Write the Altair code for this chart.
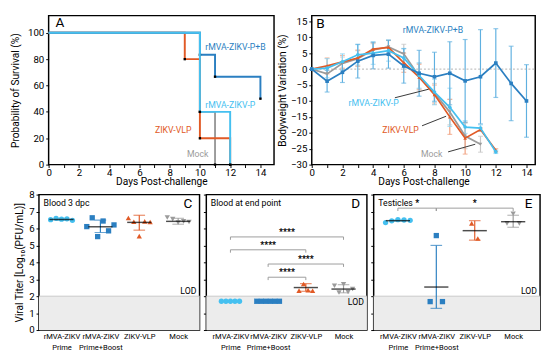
import json
import altair as alt
import pandas as pd

FONT = "Roboto"
SERIES = ["rMVA-ZIKV-P+B", "rMVA-ZIKV-P", "ZIKV-VLP", "Mock"]
LINE_COLORS = ["#2b7fc1", "#45c0f0", "#e15a26", "#9b9b9b"]
BAR_COLORS = ["#5fb0e0", "#8fd6f4", "#f1a07e", "#c6c6c6"]

# ---------------- Panel A: survival (Kaplan-Meier steps) ----------------
surv_pb_days = [0, 10, 11, 14]
surv_pb_pct = [100, 83.3, 66.7, 50]
surv_p_days = [0, 10, 12]
surv_p_pct = [100, 40, 0]
surv_vlp_days = [0, 9, 10, 12]
surv_vlp_pct = [100, 80, 20, 0]
surv_mock_days = [0, 10, 11]
surv_mock_pct = [100, 40, 0]

# ---------------- Panel B: bodyweight variation ----------------
bw_pb_days = list(range(15))
bw_pb_mean = [0, -3.8, -1.0, 2.5, 4.3, 4.7, 1.0, -1.3, -2.4, -1.3, -3.7, -2.4, 1.9, -4.5, -10.0]
bw_pb_err = [0, 3.4, 3.2, 5.3, 4.2, 4.4, 5.4, 7.2, 7.7, 9.9, 13.0, 14.8, 10.8, 11.7, 11.4]
bw_p_days = list(range(13))
bw_p_mean = [0, 0.3, 2.3, 4.5, 5.0, 5.8, 3.5, -2.0, -7.2, -12.0, -18.2, -18.5, -26.0]
bw_p_err = [0, 3.0, 2.5, 3.2, 3.5, 3.3, 3.0, 4.0, 4.0, 6.0, 2.0, 1.0, 0.5]
bw_vlp_days = list(range(13))
bw_vlp_mean = [0, 1.0, 2.3, 3.5, 6.3, 6.8, 2.0, -2.5, -8.0, -15.0, -21.7, -19.0, -25.5]
bw_vlp_err = [0, 2.5, 2.0, 2.5, 2.0, 2.2, 3.0, 4.0, 3.0, 5.5, 5.0, 0.5, 0.5]
bw_mock_days = list(range(12))
bw_mock_mean = [0, -1.5, 1.8, 3.3, 6.0, 7.0, 4.8, -2.2, -7.5, -13.5, -21.0, -23.6]
bw_mock_err = [0, 2.0, 2.0, 2.5, 2.0, 2.0, 3.0, 4.0, 3.0, 4.0, 4.0, 2.5]

# ---------------- Panels C-E: viral titers ----------------
GROUPS = ["rMVA-ZIKV|Prime", "rMVA-ZIKV|Prime+Boost", "ZIKV-VLP", "Mock"]
GROUP_SERIES = ["rMVA-ZIKV-P", "rMVA-ZIKV-P+B", "ZIKV-VLP", "Mock"]
GROUP_SHAPES = ["circle", "square", "triangle-up", "triangle-down"]

c_prime = [6.52, 6.6, 6.55, 6.57, 6.48]
c_pb = [6.11, 6.63, 5.52, 6.44, 5.86, 6.21]
c_vlp = [6.62, 6.4, 5.55, 6.42, 6.38]
c_mock = [6.65, 6.55, 6.35, 6.42, 6.38]
c_mean = [6.53, 6.1, 6.36, 6.42]
c_lo = [6.48, 5.76, 5.9, 6.25]
c_hi = [6.6, 6.49, 6.78, 6.6]

d_prime = [1.7, 1.7, 1.7, 1.7, 1.7]
d_pb = [1.7, 1.7, 1.7, 1.7, 1.7, 1.7]
d_vlp = [2.33, 2.72, 2.36, 2.32]
d_mock = [2.62, 2.22, 2.7, 2.25, 2.42]
d_mean = [2.51, 2.42]
d_lo = [2.29, 2.2]
d_hi = [2.74, 2.68]
d_summary_groups = [2, 3]

e_prime = [6.35, 6.45, 6.52, 6.5, 6.48]
e_pb = [1.68, 5.58, 1.68]
e_vlp = [6.3, 5.41]
e_mock = [6.3, 6.87, 6.3]
e_mean = [6.46, 2.54, 5.87, 6.4]
e_lo = [6.44, 1.28, 5.31, 6.07]
e_hi = [6.5, 5.0, 6.46, 6.78]

d_brackets = [(0, 3, 5.5, "****"), (0, 2, 4.74, "****"), (1, 3, 3.9, "****"), (1, 2, 3.12, "****")]
e_brackets = [(0, 1, 7.2, "*"), (1, 3, 7.2, "*")]
LOD = 2.0

color_scale = alt.Scale(domain=SERIES, range=LINE_COLORS)
bar_scale = alt.Scale(domain=SERIES, range=BAR_COLORS)

TOP_X_AXIS = dict(tickCount=15, labelExpr="datum.value % 2 == 0 ? datum.label : ''",
                  labelPadding=0, titlePadding=0, labelOverlap=False, labelFlush=False)

# =============== Panel A ===============
AX = alt.Scale(domain=[0, 14.9], nice=False)
AY = alt.Scale(domain=[0, 113], nice=False)


def surv_layer(name, days, pct):
    df = pd.DataFrame({"day": days, "pct": pct, "s": name})
    line = alt.Chart(df).mark_line(interpolate="step-after", strokeWidth=2).encode(
        x=alt.X("day:Q", scale=AX, title="Days Post-challenge", axis=alt.Axis(**TOP_X_AXIS)),
        y=alt.Y("pct:Q", scale=AY, title="Probability of Survival (%)",
                axis=alt.Axis(tickCount=6, titlePadding=7, labelOverlap=False, labelFlush=False)),
        color=alt.Color("s:N", scale=color_scale, legend=None),
    )
    dots = alt.Chart(df).transform_filter("datum.day > 0").mark_square(
        size=6, color="black", opacity=1).encode(
        x=alt.X("day:Q", scale=AX), y=alt.Y("pct:Q", scale=AY))
    return [line, dots]


a_layers = []
a_layers += surv_layer("Mock", surv_mock_days, surv_mock_pct)
a_layers += surv_layer("ZIKV-VLP", surv_vlp_days, surv_vlp_pct)
a_layers += surv_layer("rMVA-ZIKV-P+B", surv_pb_days, surv_pb_pct)
a_layers += surv_layer("rMVA-ZIKV-P", surv_p_days, surv_p_pct)

a_labels = pd.DataFrame({
    "s": ["rMVA-ZIKV-P+B", "rMVA-ZIKV-P", "ZIKV-VLP", "Mock"],
    "x": [10.35, 10.35, 7.03, 9.14],
    "y": [89, 45, 26.5, 8],
})
a_layers.append(alt.Chart(a_labels).mark_text(align="left", baseline="middle", font=FONT, fontSize=9).encode(
    x=alt.X("x:Q", scale=AX), y=alt.Y("y:Q", scale=AY), text="s:N",
    color=alt.Color("s:N", scale=color_scale, legend=None)))
a_layers.append(alt.Chart(pd.DataFrame({"t": ["A"], "x": [0.45], "y": [107]})).mark_text(
    align="left", baseline="middle", font=FONT, fontSize=14, color="black").encode(
    x=alt.X("x:Q", scale=AX), y=alt.Y("y:Q", scale=AY), text="t:N"))

panel_a = alt.layer(*a_layers).properties(width=233, height=154)

# =============== Panel B ===============
BX = alt.Scale(domain=[0, 14.57], nice=False)
BY = alt.Scale(domain=[-30, 16.8], nice=False)

b_err_layers = []
b_line_layers = []
for name, days, mean, err, shape in [
    ("Mock", bw_mock_days, bw_mock_mean, bw_mock_err, "triangle-down"),
    ("ZIKV-VLP", bw_vlp_days, bw_vlp_mean, bw_vlp_err, "triangle-up"),
    ("rMVA-ZIKV-P", bw_p_days, bw_p_mean, bw_p_err, "circle"),
    ("rMVA-ZIKV-P+B", bw_pb_days, bw_pb_mean, bw_pb_err, "square"),
]:
    df = pd.DataFrame({"day": days, "m": mean, "e": err, "s": name})
    base = alt.Chart(df).transform_calculate(lo="datum.m - datum.e", hi="datum.m + datum.e")
    b_err_layers.append(base.transform_filter("datum.e > 0").mark_rule(strokeWidth=1.2).encode(
        x=alt.X("day:Q", scale=BX), y=alt.Y("lo:Q", scale=BY), y2="hi:Q",
        color=alt.Color("s:N", scale=bar_scale, legend=None)))
    for fld in ["lo", "hi"]:
        b_err_layers.append(base.transform_filter("datum.e > 0").mark_tick(
            orient="horizontal", size=5, thickness=1.2).encode(
            x=alt.X("day:Q", scale=BX), y=alt.Y(f"{fld}:Q", scale=BY),
            color=alt.Color("s:N", scale=bar_scale, legend=None)))
    b_line_layers.append(alt.Chart(df).mark_line(
        strokeWidth=1.8, point=alt.OverlayMarkDef(shape=shape, size=14, filled=True)).encode(
        x=alt.X("day:Q", scale=BX), y=alt.Y("m:Q", scale=BY),
        color=alt.Color("s:N", scale=color_scale, legend=None)))

b_zero = alt.Chart(pd.DataFrame({"z": [0]})).mark_rule(
    color="#b0b0b0", strokeWidth=1, strokeDash=[2, 2]).encode(
    y=alt.Y("z:Q", scale=BY, title="Bodyweight Variation (%)",
            axis=alt.Axis(tickCount=10, titlePadding=3, labelOverlap=False, labelFlush=False)),
    x=alt.value(0), x2=alt.value(231))
b_axis_x = alt.Chart(pd.DataFrame({"d": [0]})).mark_point(opacity=0).encode(
    x=alt.X("d:Q", scale=BX, title="Days Post-challenge", axis=alt.Axis(**TOP_X_AXIS)),
    y=alt.Y("d:Q", scale=BY))

b_pointers = pd.DataFrame({
    "x1": [5.42, 7.19, 8.89], "y1": [-9.0, -17.8, -26.0],
    "x2": [7.63, 8.76, 10.66], "y2": [-6.3, -14.8, -23.6],
})
b_ptr = alt.Chart(b_pointers).mark_rule(color="#333333", strokeWidth=1).encode(
    x=alt.X("x1:Q", scale=BX), x2="x2:Q", y=alt.Y("y1:Q", scale=BY), y2="y2:Q")
b_labels = pd.DataFrame({
    "s": ["rMVA-ZIKV-P+B", "rMVA-ZIKV-P", "ZIKV-VLP", "Mock"],
    "x": [5.93, 2.4, 4.6, 7.12],
    "y": [12.3, -10.8, -19.0, -26.6],
})
b_lab = alt.Chart(b_labels).mark_text(align="left", baseline="middle", font=FONT, fontSize=9).encode(
    x=alt.X("x:Q", scale=BX), y=alt.Y("y:Q", scale=BY), text="s:N",
    color=alt.Color("s:N", scale=color_scale, legend=None))
b_letter = alt.Chart(pd.DataFrame({"t": ["B"], "x": [0.3], "y": [14.2]})).mark_text(
    align="left", baseline="middle", font=FONT, fontSize=14, color="black").encode(
    x=alt.X("x:Q", scale=BX), y=alt.Y("y:Q", scale=BY), text="t:N")

b_bars = alt.layer(*b_err_layers)
b_fore = alt.layer(b_zero, b_axis_x, *b_line_layers, b_ptr, b_lab, b_letter)
panel_b = alt.layer(b_bars, b_fore).resolve_scale(color="independent").properties(
    width=231, height=154)

# =============== Panels C-E ===============
label_expr = "split(" + json.dumps(GROUPS) + "[round(datum.value)], '|')"


def titer_panel(points, summ_groups, mean, lo, hi, brackets, title, letter,
                lod_y, domain, width, show_y, spread):
    XS = alt.Scale(domain=domain, nice=False)
    YS = alt.Scale(domain=[0, 8], nice=False)
    rows = []
    for g, vals in enumerate(points):
        for k, v in enumerate(vals):
            rows.append({"g": g, "k": k, "n": len(vals), "v": v, "s": GROUP_SERIES[g]})
    pts = pd.DataFrame(rows)
    summ = pd.DataFrame({"g": summ_groups, "m": mean, "lo": lo, "hi": hi,
                         "s": [GROUP_SERIES[g] for g in summ_groups]})

    yaxis = alt.Axis(tickCount=8, labels=show_y, titlePadding=4, labelFontSize=10,
                     labelOverlap=False, labelFlush=False)
    lod = alt.Chart(pd.DataFrame({"a": [0], "b": [LOD]})).mark_rect(color="#ececec").encode(
        x=alt.value(0), x2=alt.value(width),
        y=alt.Y("b:Q", scale=YS, axis=yaxis,
                title="Viral Titer [Log\u2081\u2080(PFU/mL)]" if show_y else None),
        y2="a:Q")
    lod_line = alt.Chart(pd.DataFrame({"b": [LOD]})).mark_rule(color="#c8c8c8", strokeWidth=1).encode(
        x=alt.value(0), x2=alt.value(width), y=alt.Y("b:Q", scale=YS))
    xaxis_layer = alt.Chart(pd.DataFrame({"g": [0, 1, 2, 3]})).mark_point(opacity=0).encode(
        x=alt.X("g:Q", scale=XS, title=None,
                axis=alt.Axis(values=[0, 1, 2, 3], labelExpr=label_expr, ticks=False,
                              labelFontSize=7.8, labelPadding=3, labelLineHeight=11,
                              labelOverlap=False, labelFlush=False)),
        y=alt.value(0))

    sb = alt.Chart(summ).transform_calculate(xg="datum.g")
    err = sb.mark_rule(strokeWidth=1.2).encode(
        x=alt.X("xg:Q", scale=XS), y=alt.Y("lo:Q", scale=YS), y2="hi:Q",
        color=alt.Color("s:N", scale=color_scale, legend=None))
    caps = [sb.mark_tick(orient="horizontal", size=12, thickness=1.2).encode(
        x=alt.X("xg:Q", scale=XS), y=alt.Y(f"{f}:Q", scale=YS),
        color=alt.Color("s:N", scale=color_scale, legend=None)) for f in ["lo", "hi"]]

    points_layer = alt.Chart(pts).transform_calculate(
        xj=f"datum.g + (datum.k - (datum.n - 1) / 2) * {spread}").mark_point(
        filled=True, size=30, opacity=1).encode(
        x=alt.X("xj:Q", scale=XS), y=alt.Y("v:Q", scale=YS),
        color=alt.Color("s:N", scale=color_scale, legend=None),
        shape=alt.Shape("s:N", scale=alt.Scale(domain=GROUP_SERIES, range=GROUP_SHAPES), legend=None))
    means = sb.mark_tick(orient="horizontal", size=25, thickness=1.5, color="black").encode(
        x=alt.X("xg:Q", scale=XS), y=alt.Y("m:Q", scale=YS))

    layers = [lod, lod_line, xaxis_layer, err] + caps + [points_layer, means]

    if brackets:
        bdf = pd.DataFrame(brackets, columns=["x1", "x2", "y", "t"])
        bb = alt.Chart(bdf).transform_calculate(
            yd="datum.y - 0.17", xm="(datum.x1 + datum.x2) / 2", yt="datum.y + 0.3")
        layers.append(bb.mark_rule(color="#9a9a9a", strokeWidth=1).encode(
            x=alt.X("x1:Q", scale=XS), x2="x2:Q", y=alt.Y("y:Q", scale=YS)))
        for f in ["x1", "x2"]:
            layers.append(bb.mark_rule(color="#9a9a9a", strokeWidth=1).encode(
                x=alt.X(f"{f}:Q", scale=XS), y=alt.Y("y:Q", scale=YS), y2="yd:Q"))
        layers.append(bb.mark_text(font=FONT, fontSize=9, fontWeight="bold", color="black",
                                   baseline="middle").encode(
            x=alt.X("xm:Q", scale=XS), y=alt.Y("yt:Q", scale=YS), text="t:N"))

    txt = pd.DataFrame({
        "t": [title, letter, "LOD"],
        "x": [domain[0] + 0.12, domain[1] - 0.3, domain[1] - 0.08],
        "y": [7.5, 7.45, lod_y],
        "fs": ["s", "l", "s"],
    })
    layers.append(alt.Chart(txt).transform_filter("datum.fs == 's' && datum.t != 'LOD'").mark_text(
        align="left", baseline="middle", font=FONT, fontSize=9, color="black").encode(
        x=alt.X("x:Q", scale=XS), y=alt.Y("y:Q", scale=YS), text="t:N"))
    layers.append(alt.Chart(txt).transform_filter("datum.t == 'LOD'").mark_text(
        align="right", baseline="middle", font=FONT, fontSize=9, color="black").encode(
        x=alt.X("x:Q", scale=XS), y=alt.Y("y:Q", scale=YS), text="t:N"))
    layers.append(alt.Chart(txt).transform_filter("datum.fs == 'l'").mark_text(
        align="center", baseline="middle", font=FONT, fontSize=14, color="black").encode(
        x=alt.X("x:Q", scale=XS), y=alt.Y("y:Q", scale=YS), text="t:N"))
    return alt.layer(*layers).properties(width=width, height=140)


panel_c = titer_panel([c_prime, c_pb, c_vlp, c_mock], [0, 1, 2, 3], c_mean, c_lo, c_hi, None,
                      "Blood 3 dpc", "C", 2.3, [-0.58, 3.55], 166, True, 0.14)
panel_d = titer_panel([d_prime, d_pb, d_vlp, d_mock], d_summary_groups, d_mean, d_lo, d_hi, d_brackets,
                      "Blood at end point", "D", 1.66, [-0.64, 3.62], 166, False, 0.12)
panel_e = titer_panel([e_prime, e_pb, e_vlp, e_mock], [0, 1, 2, 3], e_mean, e_lo, e_hi, e_brackets,
                      "Testicles", "E", 2.3, [-0.63, 3.7], 172, False, 0.16)


def spacer(w, h):
    return alt.Chart(pd.DataFrame({"a": [0]})).mark_point(opacity=0, size=1).encode(
        x=alt.X("a:Q", axis=None), y=alt.Y("a:Q", axis=None)).properties(
        width=w, height=h, view=alt.ViewBackground(stroke="transparent"))


top = alt.hconcat(spacer(5, 154), panel_a, spacer(29, 154), panel_b, spacing=5, bounds="flush").resolve_scale(
    x="independent", y="independent", color="independent")
bottom = alt.hconcat(panel_c, panel_d, panel_e, spacing=7, bounds="flush").resolve_scale(
    x="independent", y="independent", color="independent", shape="independent")

chart = alt.vconcat(top, bottom, spacing=0).resolve_scale(
    x="independent", y="independent", color="independent", shape="independent"
).properties(padding={"left": 2, "top": 1, "right": 0, "bottom": 0}).configure_view(
    stroke="black", strokeWidth=1.5
).configure_axis(
    grid=False, domain=False, labelFont=FONT, titleFont=FONT, labelFontSize=10, titleFontSize=10.5,
    titleFontWeight="normal", labelColor="black", titleColor="black", tickColor="black", tickSize=3,
    labelOverlap=False, labelFlush=False
)

chart.save("out.html", embed_options={"renderer": "svg", "actions": False})
